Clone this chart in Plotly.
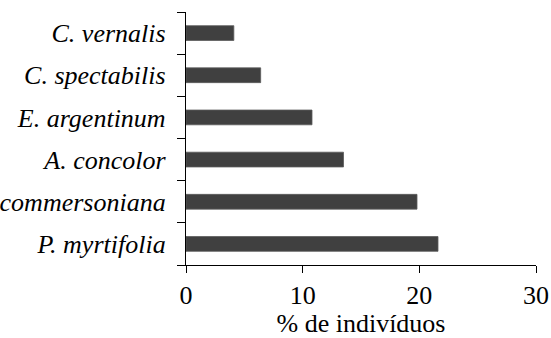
import plotly.graph_objects as go

# Species (bottom to top) and share of individuals (%)
species = [
    "P. myrtifolia",
    "S. commersoniana",
    "A. concolor",
    "E. argentinum",
    "C. spectabilis",
    "C. vernalis",
]
percent = [21.6, 19.8, 13.5, 10.8, 6.4, 4.1]
x_ticks = [0, 10, 20, 30]

SERIF = "Liberation Serif"
SIZE = 26
font = dict(family=SERIF, size=SIZE, color="black")

fig = go.Figure(
    go.Bar(
        x=percent,
        y=species,
        orientation="h",
        width=0.35,
        marker=dict(color="#404040", line=dict(color="#5a5a5a", width=0.8)),
    )
)

fig.update_layout(
    width=551,
    height=338,
    margin=dict(l=186, r=15, t=12, b=73),
    paper_bgcolor="white",
    plot_bgcolor="white",
    font=font,
    showlegend=False,
)

fig.update_xaxes(
    range=[0, 30],
    tickvals=x_ticks,
    ticks="outside",
    ticklen=7,
    tickwidth=1.3,
    tickcolor="black",
    showline=True,
    linecolor="black",
    linewidth=1.3,
    showgrid=False,
    zeroline=False,
    automargin=False,
    tickfont=dict(family=SERIF, size=SIZE),
    title=dict(text="% de indivíduos", standoff=0, font=dict(family=SERIF, size=SIZE)),
)

fig.update_yaxes(
    categoryorder="array",
    categoryarray=species,
    tickson="boundaries",
    ticks="outside",
    ticklen=8,
    tickwidth=1.3,
    tickcolor="black",
    showline=True,
    linecolor="black",
    linewidth=1.3,
    showgrid=False,
    automargin=False,
    ticklabelstandoff=14,
    tickfont=dict(family=SERIF, size=SIZE, style="italic"),
)

fig.write_html("out.html")
